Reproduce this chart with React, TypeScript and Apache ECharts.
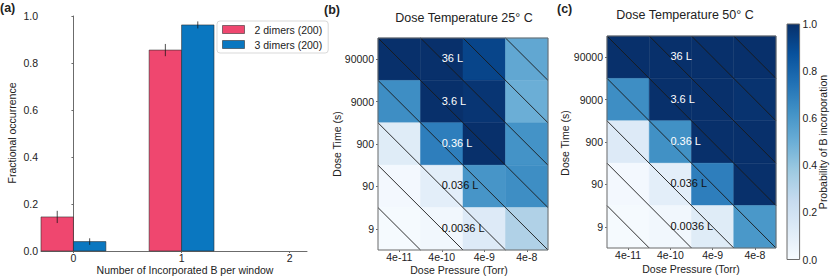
import React, { useEffect, useRef } from "react";
import * as echarts from "echarts";

// ---------- data ----------
const barCategories = [0, 1, 2];
const dimers2Values = [0.145, 0.855, 0];
const dimers2Errors = [0.026, 0.026, 0];
const dimers3Values = [0.04, 0.962, 0];
const dimers3Errors = [0.014, 0.015, 0];
const barSeriesNames = ["2 dimers (200)", "3 dimers (200)"];

const pressureLabels = ["4e-11", "4e-10", "4e-9", "4e-8"];
const timeLabels = ["9", "90", "900", "9000", "90000"]; // bottom -> top

// rows listed from top (90000 s) to bottom (9 s), columns 4e-11 .. 4e-8
const prob25C = [
  [1.0, 1.0, 0.92, 0.53],
  [0.64, 1.0, 0.98, 0.5],
  [0.12, 0.7, 1.0, 0.62],
  [0.02, 0.1, 0.61, 0.64],
  [0.01, 0.03, 0.13, 0.32],
];
const prob50C = [
  [1.0, 1.0, 1.0, 1.0],
  [0.64, 1.0, 1.0, 0.99],
  [0.13, 0.63, 1.0, 1.0],
  [0.02, 0.1, 0.7, 1.0],
  [0.01, 0.03, 0.12, 0.6],
];
// exposure labels, top row to bottom row
const exposureLabels = ["36 L", "3.6 L", "0.36 L", "0.036 L", "0.0036 L"];

// ---------- styles ----------
const BLUES = [
  "#f7fbff", "#deebf7", "#c6dbef", "#9ecae1", "#6baed6",
  "#4292c6", "#2171b5", "#08519c", "#08306b",
];
const PINK = "#EF476F";
const BLUE = "#0A77C0";
const FONT = "Liberation Sans, Arial, sans-serif";
const AXIS_GRAY = "#6b6b6b";
const TEXT = "#222";

function blues(v: number) {
  return echarts.color.lerp(Math.max(0, Math.min(1, v)), BLUES) as string;
}

function heatData(m: number[][]) {
  const out: number[][] = [];
  m.forEach((row, r) => {
    row.forEach((v, c) => out.push([c, timeLabels.length - 1 - r, v]));
  });
  return out;
}

const diagOffsets = [-4, -3, -2, -1, 0, 1, 2, 3];

function heatmapSeries(idx: number, m: number[][]) {
  const nC = pressureLabels.length;
  const nR = timeLabels.length;
  const corner = (api: any, c: number, r: number) => {
    const p = api.coord([0, nR - 1]);
    const s = api.size([1, 1]);
    return [p[0] - s[0] / 2 + c * s[0], p[1] - s[1] / 2 + r * s[1]];
  };
  return [
    {
      type: "custom",
      xAxisIndex: idx,
      yAxisIndex: idx,
      data: heatData(m),
      renderItem: (params: any, api: any) => {
        const c = api.coord([api.value(0), api.value(1)]);
        const s = api.size([1, 1]);
        const col = blues(api.value(2));
        return {
          type: "rect",
          shape: { x: c[0] - s[0] / 2, y: c[1] - s[1] / 2, width: s[0], height: s[1] },
          style: { fill: col, stroke: col, lineWidth: 0.5 },
        };
      },
      z: 2,
    },
    {
      type: "custom",
      xAxisIndex: idx,
      yAxisIndex: idx,
      data: diagOffsets.map((d) => [0, 0, d]),
      renderItem: (params: any, api: any) => {
        const d = api.value(2);
        const c0 = Math.max(d, 0);
        const r0 = Math.max(-d, 0);
        const L = Math.min(nC - c0, nR - r0);
        const a = corner(api, c0, r0);
        const b = corner(api, c0 + L, r0 + L);
        return {
          type: "line",
          shape: { x1: a[0], y1: a[1], x2: b[0], y2: b[1] },
          style: { stroke: "#1a1a1a", lineWidth: 0.9 },
        };
      },
      z: 3,
    },
    {
      type: "custom",
      xAxisIndex: idx,
      yAxisIndex: idx,
      data: exposureLabels.map((t, r) => [1, nR - 1 - r, r]),
      renderItem: (params: any, api: any) => {
        const r = api.value(2);
        const p = api.coord([api.value(0), api.value(1)]);
        return {
          type: "text",
          x: p[0],
          y: p[1] - 1,
          style: {
            text: exposureLabels[r],
            fill: r < 3 ? "#ffffff" : "#111111",
            fontSize: 11,
            fontFamily: FONT,
            align: "left",
            verticalAlign: "middle",
          },
        };
      },
      z: 4,
    },
    {
      type: "custom",
      xAxisIndex: idx,
      yAxisIndex: idx,
      data: [[0, 0]],
      renderItem: (params: any, api: any) => {
        const a = corner(api, 0, 0);
        const b = corner(api, nC, nR);
        return {
          type: "rect",
          shape: { x: a[0], y: a[1], width: b[0] - a[0], height: b[1] - a[1] },
          style: { fill: "none", stroke: AXIS_GRAY, lineWidth: 1 },
        };
      },
      z: 5,
    },
  ];
}

function barSeries(name: string, values: number[], errors: number[], offset: number, color: string) {
  return {
    type: "custom",
    name,
    xAxisIndex: 0,
    yAxisIndex: 0,
    itemStyle: { color },
    data: barCategories.map((x, i) => [x, values[i], errors[i]]),
    renderItem: (params: any, api: any) => {
      const x = api.value(0);
      const v = api.value(1);
      const e = api.value(2);
      if (!v) return { type: "group", children: [] };
      const tl = api.coord([x + offset - 0.15, v]);
      const br = api.coord([x + offset + 0.15, 0]);
      const eb = api.coord([x + offset, v - e]);
      const et = api.coord([x + offset, v + e]);
      return {
        type: "group",
        children: [
          {
            type: "rect",
            shape: { x: tl[0], y: tl[1], width: br[0] - tl[0], height: br[1] - tl[1] },
            style: { fill: color, stroke: "rgba(40,40,40,0.55)", lineWidth: 1 },
          },
          {
            type: "line",
            shape: { x1: eb[0], y1: eb[1], x2: et[0], y2: et[1] },
            style: { stroke: "rgba(20,20,20,0.75)", lineWidth: 1 },
          },
        ],
      };
    },
  };
}

function txt(text: string, x: number, y: number, opts: any = {}) {
  return {
    type: "text",
    x,
    y,
    rotation: opts.rotation || 0,
    style: {
      text,
      fill: TEXT,
      fontSize: opts.fontSize || 10.5,
      fontWeight: opts.fontWeight || "normal",
      fontFamily: FONT,
      align: opts.align || "center",
      verticalAlign: "middle",
    },
  };
}

const tickLabel = { color: TEXT, fontSize: 10.5, fontFamily: FONT };

export default function App() {
  const ref = useRef<HTMLDivElement>(null);
  useEffect(() => {
    if (!ref.current) return;
    const chart = echarts.init(ref.current, undefined, { renderer: "svg" });
    const catAxis = (gridIndex: number, data: string[], isX: boolean) => ({
      type: "category",
      gridIndex,
      data,
      boundaryGap: true,
      axisLine: { show: false },
      axisTick: { show: true, length: 2, alignWithLabel: true, lineStyle: { color: AXIS_GRAY } },
      axisLabel: { ...tickLabel, margin: isX ? 1 : 4, interval: 0 },
      splitLine: { show: false },
    });
    const option: any = {
      animation: false,
      backgroundColor: "#ffffff",
      grid: [
        { left: 41, top: 16, width: 266, height: 235 },
        { left: 378, top: 38, width: 170, height: 212 },
        { left: 607, top: 36, width: 169, height: 212 },
        { left: 787, top: 24, width: 12.6, height: 235.5 },
      ],
      xAxis: [
        {
          type: "value",
          gridIndex: 0,
          min: -0.3,
          max: 2.16,
          axisLine: { show: true, lineStyle: { color: AXIS_GRAY } },
          axisTick: { show: true, length: 2, customValues: barCategories, lineStyle: { color: AXIS_GRAY } },
          axisLabel: { ...tickLabel, margin: 1, customValues: barCategories, formatter: (v: number) => String(v) },
          splitLine: { show: false },
        },
        catAxis(1, pressureLabels, true),
        catAxis(2, pressureLabels, true),
        { type: "value", gridIndex: 3, min: 0, max: 1, show: false },
      ],
      yAxis: [
        {
          type: "value",
          gridIndex: 0,
          min: 0,
          max: 1,
          interval: 0.2,
          axisLine: { show: true, lineStyle: { color: AXIS_GRAY } },
          axisTick: { show: true, length: 2, lineStyle: { color: AXIS_GRAY } },
          axisLabel: { ...tickLabel, margin: 3, formatter: (v: number) => v.toFixed(1) },
          splitLine: { show: false },
        },
        catAxis(1, timeLabels, false),
        catAxis(2, timeLabels, false),
        {
          type: "value",
          gridIndex: 3,
          position: "right",
          min: 0,
          max: 1,
          interval: 0.2,
          axisLine: { show: false },
          axisTick: { show: true, length: 2, lineStyle: { color: AXIS_GRAY } },
          axisLabel: { ...tickLabel, margin: 3, formatter: (v: number) => v.toFixed(1) },
          splitLine: { show: false },
        },
      ],
      legend: {
        left: 217,
        top: 21,
        orient: "vertical",
        itemWidth: 22,
        itemHeight: 8,
        itemGap: 4,
        padding: [3, 6, 3, 5],
        borderColor: "#d9d9d9",
        borderWidth: 1,
        borderRadius: 3,
        backgroundColor: "#ffffff",
        textStyle: { color: TEXT, fontSize: 10.5, fontFamily: FONT, padding: [0, 0, 0, 5] },
        data: [
          { name: barSeriesNames[0], icon: "rect", itemStyle: { color: PINK, borderColor: "rgba(40,40,40,0.55)", borderWidth: 1 } },
          { name: barSeriesNames[1], icon: "rect", itemStyle: { color: BLUE, borderColor: "rgba(40,40,40,0.55)", borderWidth: 1 } },
        ],
      },
      series: [
        barSeries(barSeriesNames[0], dimers2Values, dimers2Errors, -0.15, PINK),
        barSeries(barSeriesNames[1], dimers3Values, dimers3Errors, 0.15, BLUE),
        ...heatmapSeries(1, prob25C),
        ...heatmapSeries(2, prob50C),
        {
          type: "custom",
          xAxisIndex: 3,
          yAxisIndex: 3,
          data: [[0, 0]],
          renderItem: (params: any, api: any) => {
            const a = api.coord([0, 1]);
            const b = api.coord([1, 0]);
            return {
              type: "rect",
              shape: { x: a[0], y: a[1], width: b[0] - a[0], height: b[1] - a[1] },
              style: {
                fill: new echarts.graphic.LinearGradient(
                  0, 1, 0, 0,
                  BLUES.map((c, i) => ({ offset: i / (BLUES.length - 1), color: c }))
                ),
                stroke: AXIS_GRAY,
                lineWidth: 1,
              },
            };
          },
        },
      ],
      graphic: [
        txt("(a)", 0, 8, { fontSize: 12.5, fontWeight: "bold", align: "left" }),
        txt("(b)", 324, 10, { fontSize: 12.5, fontWeight: "bold", align: "left" }),
        txt("(c)", 557, 9, { fontSize: 12.5, fontWeight: "bold", align: "left" }),
        txt("Dose Temperature 25° C", 464, 18, { fontSize: 12.5 }),
        txt("Dose Temperature 50° C", 685, 15, { fontSize: 12.5 }),
        txt("Fractional occurrence", 12, 133, { rotation: Math.PI / 2 }),
        txt("Number of Incorporated B per window", 185, 269.5),
        txt("Dose Time (s)", 337, 144, { rotation: Math.PI / 2 }),
        txt("Dose Pressure (Torr)", 459, 269.5),
        txt("Dose Time (s)", 565, 143, { rotation: Math.PI / 2 }),
        txt("Dose Pressure (Torr)", 691, 268.5),
        txt("Probability of B incorporation", 823, 142, { rotation: Math.PI / 2 }),
      ],
    };
    chart.setOption(option);
    return () => chart.dispose();
  }, []);
  return (
    <div
      ref={ref}
      style={{ position: "fixed", left: 0, top: 0, width: 830, height: 278 }}
    />
  );
}
